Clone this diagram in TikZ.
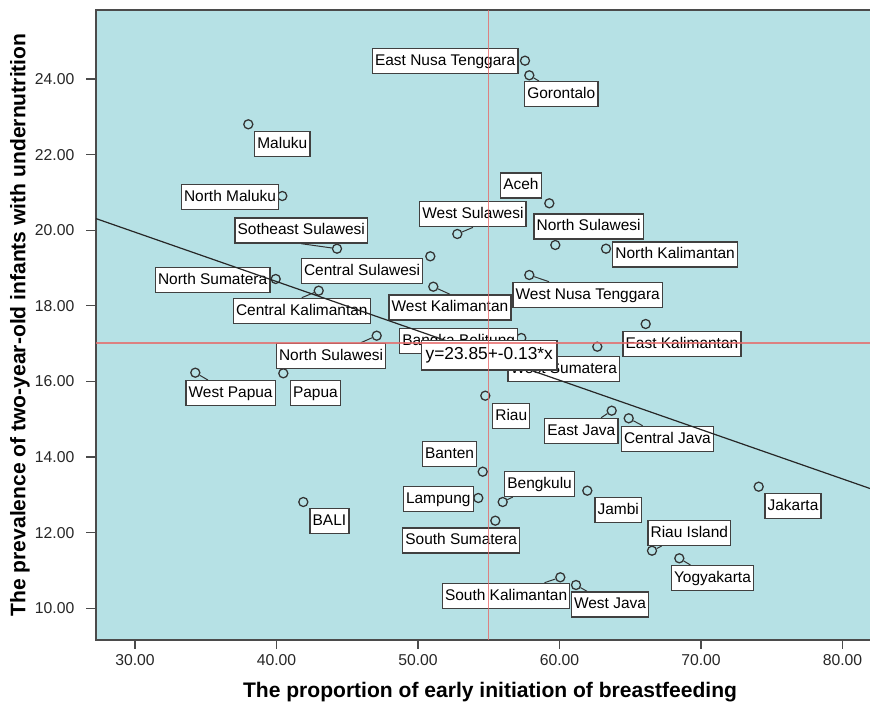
\documentclass[tikz,border=0pt]{standalone}
\usepackage{fontspec}
\setmainfont{Liberation Sans}
\usepackage{tikz}

\definecolor{plotbg}{RGB}{182,225,229}
\definecolor{refred}{RGB}{230,105,105}
\definecolor{framegray}{RGB}{75,75,75}

\tikzset{
  obs/.style={circle, draw=black!80, line width=0.95pt, minimum size=6.8pt, inner sep=0pt},
  namebox/.style={draw=black!75, fill=white, line width=1pt, anchor=north west,
    font=\fontsize{11.6}{13}\selectfont, inner xsep=2pt, inner ysep=0pt,
    minimum height=18.8pt, text height=8.6pt, text depth=2.4pt},
  leader/.style={draw=black!80, line width=0.75pt},
  ticklbl/.style={font=\fontsize{11.8}{13}\selectfont, text=black!85},
  axtitle/.style={font=\bfseries\fontsize{15.8}{18}\selectfont},
}

\begin{document}
\begin{tikzpicture}[x=0.75pt, y=-0.75pt]
		\useasboundingbox (0,0) rectangle (870,705);
		% plot area
		\fill[plotbg] (96,10) rectangle (870,640);
		\draw[framegray, line width=1pt] (870,10) -- (96,10) -- (96,640) -- (870,640);
		% axes
		\foreach \v in {10,12,...,24} {
			\pgfmathsetmacro{\py}{79+(24-\v)*37.8}
			\draw[framegray, line width=0.8pt] (86,\py) -- (96,\py);
			\node[ticklbl, anchor=east] at (79,\py) {\v.00};
		}
		\foreach \v in {30,40,...,80} {
			\pgfmathsetmacro{\px}{135+(\v-30)*14.15}
			\draw[framegray, line width=0.8pt] (\px,640) -- (\px,649);
			\node[ticklbl] at (\px,660) {\v.00};
		}
		\node[axtitle] (xtitle) at (490,692) {The proportion of early initiation of breastfeeding};
		\node[axtitle, rotate=90] (ytitle) at (20,325) {The prevalence of two-year-old infants with undernutrition};

		% provinces
		\node[obs] (ent) at (525,60.7) {};
		\node[obs] (gor) at (529.3,75.3) {};
		\node[obs] (mal) at (248.3,124.3) {};
		\node[obs] (nmal) at (282.3,196) {};
		\node[obs] (aceh) at (549.3,203.3) {};
		\node[obs] (wsul) at (457.3,234) {};
		\node[obs] (nsul) at (555.3,245) {};
		\node[obs] (sesul) at (337,248.7) {};
		\node[obs] (csul) at (430.3,256.3) {};
		\node[obs] (nkal) at (606,248.7) {};
		\node[obs] (nsum) at (275.7,279) {};
		\node[obs] (wnt) at (529.3,275) {};
		\node[obs] (ckal) at (318.7,290.7) {};
		\node[obs] (wkal) at (433.3,286.7) {};
		\node[obs] (ekal) at (645.7,324) {};
		\node[obs] (bab) at (521.3,338) {};
		\node[obs] (nsulb) at (376.7,335.7) {};
		\node[obs] (wsum) at (597.3,346.7) {};
		\node[obs] (wpap) at (195.3,372.7) {};
		\node[obs] (pap) at (283.3,373.3) {};
		\node[obs] (riau) at (485.3,395.7) {};
		\node[obs] (ejav) at (611.7,410.7) {};
		\node[obs] (cjav) at (628.7,418.3) {};
		\node[obs] (ban) at (482.7,471.7) {};
		\node[obs] (jak) at (758.7,486.7) {};
		\node[obs] (jam) at (587.3,490.7) {};
		\node[obs] (lam) at (478.3,498) {};
		\node[obs] (bali) at (303.3,502) {};
		\node[obs] (ben) at (502.7,502) {};
		\node[obs] (ssum) at (495.3,520.7) {};
		\node[obs] (rki) at (652,550.7) {};
		\node[obs] (yog) at (679.3,558.3) {};
		\node[obs] (skal) at (560.3,577.3) {};
		\node[obs] (wjav) at (576,585) {};

		\node[namebox] (entL) at (371.7,48) {East Nusa Tenggara};
		\node[namebox] (gorL) at (524,81) {Gorontalo};
		\node[namebox] (malL) at (254,130.7) {Maluku};
		\node[namebox] (nmalL) at (180.7,183.7) {North Maluku};
		\node[namebox] (acehL) at (500,172.3) {Aceh};
		\node[namebox] (wsulL) at (419,201) {West Sulawesi};
		\node[namebox] (nsulL) at (533.3,213.3) {North Sulawesi};
		\node[namebox] (sesulL) at (234.3,217.3) {Sotheast Sulawesi};
		\node[namebox] (csulL) at (300.7,257.7) {Central Sulawesi};
		\node[namebox] (nkalL) at (612,241.3) {North Kalimantan};
		\node[namebox] (nsumL) at (154.7,266.7) {North Sumatera};
		\node[namebox] (wntL) at (512.3,281.7) {West Nusa Tenggara};
		\node[namebox] (ckalL) at (232.7,297.7) {Central Kalimantan};
		\node[namebox] (wkalL) at (388.3,294.3) {West Kalimantan};
		\node[namebox] (ekalL) at (622.3,331) {East Kalimantan};
		\node[namebox] (babL) at (399,327.7) {Bangka Belitung};
		\node[namebox] (nsulbL) at (275.7,342.7) {North Sulawesi};
		\node[namebox] (wsumL) at (507.3,355.7) {West Sumatera};
		\node[namebox] (wpapL) at (185.3,380) {West Papua};
		\node[namebox] (papL) at (289.7,380) {Papua};
		\node[namebox] (riauL) at (492,402.7) {Riau};
		\node[namebox] (ejavL) at (544,417.7) {East Java};
		\node[namebox] (cjavL) at (620.7,425.7) {Central Java};
		\node[namebox] (banL) at (421.7,440.7) {Banten};
		\node[namebox] (jakL) at (764.3,492.7) {Jakarta};
		\node[namebox] (jamL) at (594.3,496.7) {Jambi};
		\node[namebox] (lamL) at (402.7,486) {Lampung};
		\node[namebox] (baliL) at (309.3,508) {BALI};
		\node[namebox] (benL) at (504,470.7) {Bengkulu};
		\node[namebox] (ssumL) at (402,527.3) {South Sumatera};
		\node[namebox] (rkiL) at (647.3,519.7) {Riau Island};
		\node[namebox] (yogL) at (670.7,565) {Yogyakarta};
		\node[namebox] (skalL) at (441.7,582.7) {South Kalimantan};
		\node[namebox] (wjavL) at (570.7,591.3) {West Java};

		% leaders
		\draw[leader] (gor) -- (gorL);
		\draw[leader] (wsul) -- (wsulL.south);
		\draw[leader] (sesul) -- (sesulL.south);
		\draw[leader] (wnt) -- (wntL);
		\draw[leader] (ckal) -- (ckalL.north);
		\draw[leader] (wkal) -- (wkalL.north);
		\draw[leader] (nsulb) -- (nsulbL);
		\draw[leader] (wpap) -- (wpapL);
		\draw[leader] (ejav) -- (ejavL);
		\draw[leader] (cjav) -- (cjavL);
		\draw[leader] (ben) -- (benL);
		\draw[leader] (rki) -- (rkiL);
		\draw[leader] (yog) -- (yogL);
		\draw[leader] (skal) -- (skalL);
		\draw[leader] (wjav) -- (wjavL);

		% fit line
		\coordinate (fitA) at (96,218.6);
		\coordinate (fitB) at (870,488.5);
		\draw[black!85, line width=0.9pt] (fitA) -- (fitB);
		\node[draw=black!75, fill=white, line width=1pt, anchor=north west,
			font=\fontsize{13}{15}\selectfont, inner xsep=3pt, inner ysep=0pt,
			minimum height=22pt, text height=9.5pt, text depth=2.8pt] (eqn) at (421,340) {y=23.85+-0.13*x};

		% reference lines
		\coordinate (vTop) at (488.5,10);
		\coordinate (vBot) at (488.5,640);
		\coordinate (hLeft) at (96,343);
		\coordinate (hRight) at (870,343);
		\draw[refred, opacity=0.8, line width=0.9pt] (vTop) -- (vBot);
		\draw[refred, opacity=0.8, line width=0.9pt] (hLeft) -- (hRight);
	\end{tikzpicture}
\end{document}
